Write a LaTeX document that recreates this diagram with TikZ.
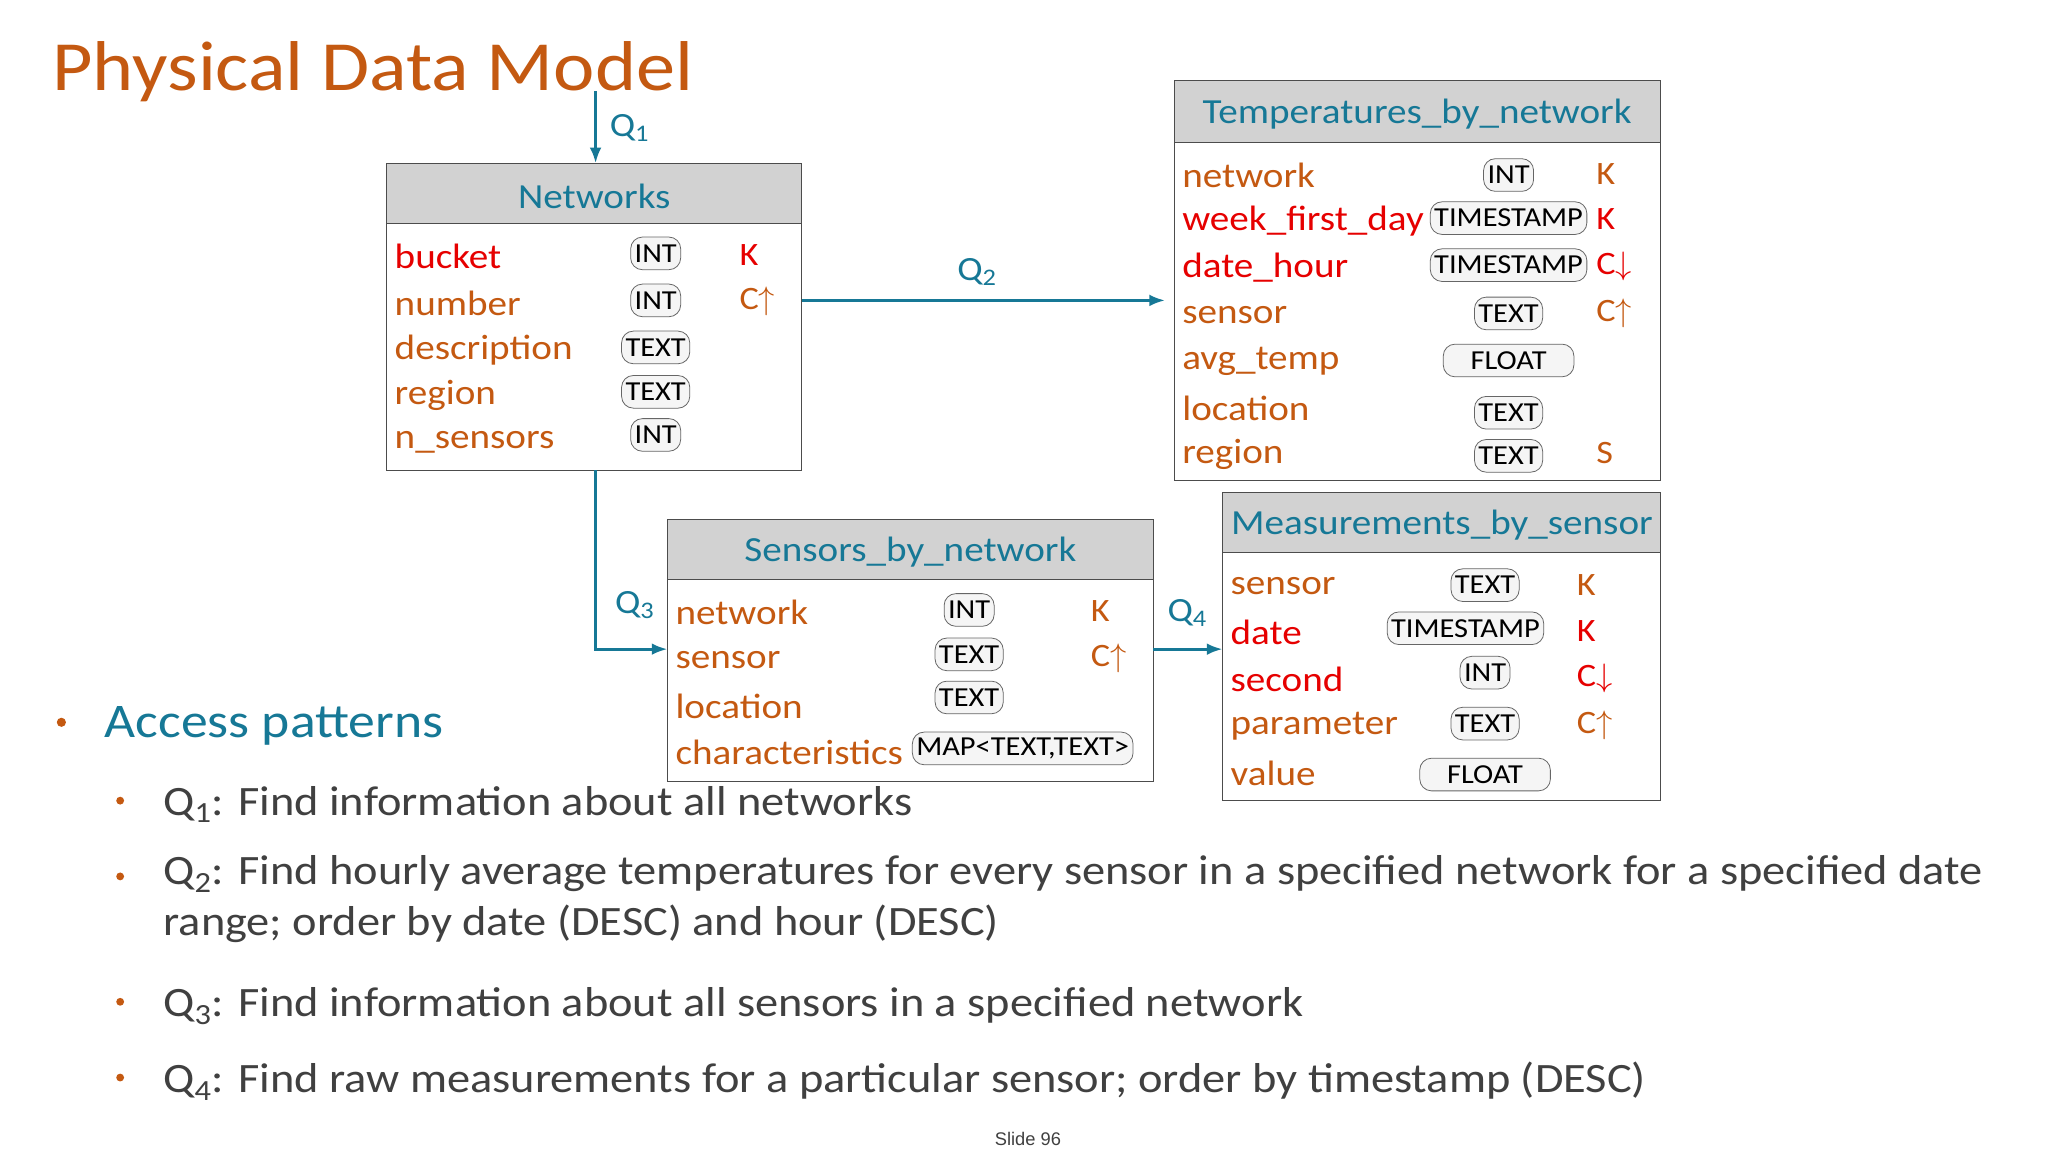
\documentclass[tikz,border=0pt]{standalone}
\usepackage{fontspec}
\setmainfont{Carlito}[FakeStretch=1.11]
\newfontfamily\arialf{Liberation Sans}
\usetikzlibrary{arrows.meta}
\definecolor{ttl}{RGB}{196,89,17}
\definecolor{teal}{RGB}{22,120,150}
\definecolor{kred}{RGB}{230,0,0}
\definecolor{org}{RGB}{196,89,17}
\definecolor{txt}{RGB}{64,64,64}
\definecolor{hdr}{RGB}{210,210,210}
\tikzset{
 box/.style={draw=black!70,line width=0.8pt,fill=white},
 head/.style={draw=black!70,line width=0.8pt,fill=hdr},
 htxt/.style={text=teal,font=\fontsize{27}{30}\selectfont,yshift=-2pt},
 nm/.style={anchor=west,inner sep=0,font=\fontsize{27}{30}\selectfont,text=org,yshift=-2pt},
 nr/.style={nm,text=kred},
 ky/.style={anchor=west,inner sep=0,font=\fontsize{25}{30}\selectfont,text=org,yshift=-1pt},
 kr/.style={ky,text=kred},
 bd/.style={draw=black!60,fill=black!4,rounded corners=9pt,line width=0.6pt,minimum height=25pt,inner xsep=3pt,inner ysep=0pt,font=\fontsize{21}{22}\selectfont,text=black},
 conn/.style={draw=teal,line width=2.2pt,-{Latex[length=12pt,width=9pt]}},
 ql/.style={text=teal,font=\fontsize{26}{30}\selectfont,inner sep=0},
 bl/.style={anchor=west,inner sep=0,font=\fontsize{32}{39}\selectfont,text=txt,align=left},
 dot/.style={circle,fill=org,inner sep=0,minimum size=7pt}
}
\begin{document}
\begin{tikzpicture}[x=1pt,y=1pt]
\useasboundingbox[fill=white] (0,0) rectangle (1568,-882);
\node[anchor=west,inner sep=0,text=ttl,font=\fontsize{54}{60}\selectfont] (title) at (40,-55) {Physical Data Model};
% Networks
\draw[head] (296,-125) rectangle (614,-171); \draw[box] (296,-171) rectangle (614,-360);
\node[htxt] (nh) at (455,-148) {Networks};
\coordinate (nt) at (456,-125); \coordinate (nb) at (456,-360);
\coordinate (nr) at (614,-230);
\node[nr] at (302,-194) {bucket}; \node[bd] at (502,-194) {INT}; \node[kr] at (566,-194) {K};
\node[nm] at (302,-230) {number}; \node[bd] at (502,-230) {INT}; \node[ky] at (566,-230) {C$\uparrow$};
\node[nm] at (302,-266) {description}; \node[bd] at (502,-266) {TEXT};
\node[nm] at (302,-301) {region}; \node[bd] at (502,-300) {TEXT};
\node[nm] at (302,-337) {n\_sensors}; \node[bd] at (502,-333) {INT};
% Temperatures
\draw[head] (899,-62) rectangle (1271,-109); \draw[box] (899,-109) rectangle (1271,-368);
\node[htxt] (th) at (1085,-85) {Temperatures\_by\_network};
\coordinate (tl) at (892,-230);
\node[nm] at (905,-132) {network}; \node[bd] at (1155,-134) {INT}; \node[ky] at (1222,-132) {K};
\node[nr] at (905,-167) {week\_first\_day}; \node[bd] at (1155,-167) {TIMESTAMP}; \node[kr] at (1222,-167) {K};
\node[nr] at (905,-203) {date\_hour}; \node[bd] at (1155,-203) {TIMESTAMP}; \node[kr] at (1222,-203) {C$\downarrow$};
\node[nm] at (905,-239) {sensor}; \node[bd] at (1155,-240) {TEXT}; \node[ky] at (1222,-239) {C$\uparrow$};
\node[nm] at (905,-275) {avg\_temp}; \node[bd,minimum width=100pt] at (1155,-276) {FLOAT};
\node[nm] at (905,-311) {location}; \node[bd] at (1155,-316) {TEXT};
\node[nm] at (905,-346) {region}; \node[bd] at (1155,-349) {TEXT}; \node[ky] at (1222,-346) {S};
% Sensors
\draw[head] (511,-398) rectangle (883,-444); \draw[box] (511,-444) rectangle (883,-598);
\node[htxt] (sh) at (697,-421) {Sensors\_by\_network};
\coordinate (sl) at (511,-497); \coordinate (sr) at (883,-497);
\node[nm] at (517,-467) {network}; \node[bd] at (742,-467) {INT}; \node[ky] at (835,-467) {K};
\node[nm] at (517,-503) {sensor}; \node[bd] at (742,-501) {TEXT}; \node[ky] at (835,-503) {C$\uparrow$};
\node[nm] at (517,-539) {location}; \node[bd] at (742,-534) {TEXT};
\node[nm] at (517,-574) {characteristics}; \node[bd] at (783,-573) {MAP<TEXT,TEXT>};
% Measurements
\draw[head] (936,-377) rectangle (1271,-423); \draw[box] (936,-423) rectangle (1271,-613);
\node[htxt] (mh) at (1104,-400) {Measurements\_by\_sensor};
\coordinate (ml) at (936,-497);
\node[nm] at (942,-447) {sensor}; \node[bd] at (1137,-448) {TEXT}; \node[ky] at (1207,-447) {K};
\node[nr] at (942,-482) {date}; \node[bd] at (1122,-481) {TIMESTAMP}; \node[kr] at (1207,-482) {K};
\node[nr] at (942,-518) {second}; \node[bd] at (1137,-515) {INT}; \node[kr] at (1207,-518) {C$\downarrow$};
\node[nm] at (942,-554) {parameter}; \node[bd] at (1137,-554) {TEXT}; \node[ky] at (1207,-554) {C$\uparrow$};
\node[nm] at (942,-590) {value}; \node[bd,minimum width=100pt] at (1137,-593) {FLOAT};
% connectors
\coordinate (q1s) at (456,-70);
\draw[conn] (q1s) -- (nt);
\node[ql] at (482,-98) {Q\textsubscript{1}};
\draw[conn] (nr) -- (tl);
\node[ql] at (748,-208) {Q\textsubscript{2}};
\draw[conn] (nb) |- (sl);
\node[ql] at (486,-463) {Q\textsubscript{3}};
\draw[conn] (sr) -- (ml);
\node[ql] at (909,-469) {Q\textsubscript{4}};
% bullets
\node[dot] at (47,-553) {};
\node[anchor=west,inner sep=0,text=teal,font=\fontsize{37}{40}\selectfont] at (80,-556) {Access patterns};
\node[dot,minimum size=6pt] at (92,-613) {};
\node[bl] at (125,-616) {Q\textsubscript{1}: Find information about all networks};
\node[dot,minimum size=6pt] at (92,-671) {};
\node[bl,anchor=north west] at (125,-655) {Q\textsubscript{2}: Find hourly average temperatures for every sensor in a specified network for a specified date\\range; order by date (DESC) and hour (DESC)};
\node[dot,minimum size=6pt] at (92,-767) {};
\node[bl] at (125,-770) {Q\textsubscript{3}: Find information about all sensors in a specified network};
\node[dot,minimum size=6pt] at (92,-825) {};
\node[bl] at (125,-828) {Q\textsubscript{4}: Find raw measurements for a particular sensor; order by timestamp (DESC)};
\node[inner sep=0,font=\arialf\fontsize{14}{16}\selectfont,text=txt] at (787,-872) {Slide 96};
\end{tikzpicture}
\end{document}
